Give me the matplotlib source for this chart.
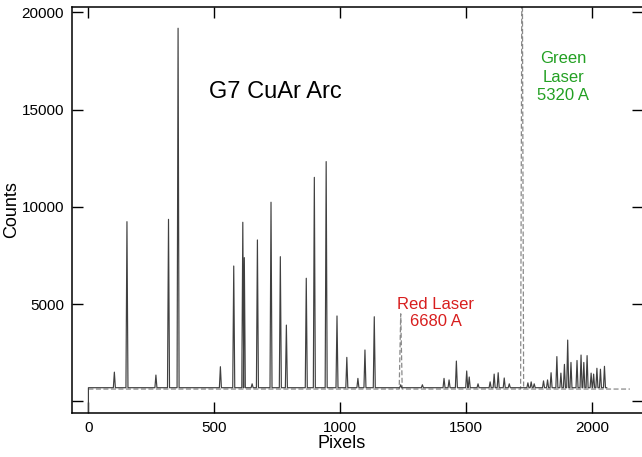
import matplotlib
matplotlib.use("Agg")
import matplotlib.pyplot as plt

# ---------------- data ----------------
# CuAr arc spectrum: emission line positions (pixels) and peak counts
arc_pixels = [103, 153, 268, 318, 356, 524, 577, 613, 619, 650, 671, 725, 762, 786,
              865, 897, 944, 987, 1026, 1070, 1098, 1135, 1240, 1326, 1412, 1432, 1461,
              1502, 1512, 1547, 1595, 1611, 1627, 1651, 1671, 1745, 1758, 1770, 1807,
              1823, 1837, 1860, 1876, 1890, 1903, 1916, 1940, 1956, 1967, 1980, 1996,
              2006, 2019, 2033, 2049]
arc_counts = [1500, 9240, 1350, 9360, 19190, 1780, 6960, 9210, 7390, 900, 8300, 10240,
              7440, 3920, 6330, 11520, 12330, 4390, 2260, 1180, 2640, 4350, 850, 850,
              1180, 1100, 2070, 1560, 1250, 900, 1000, 1400, 1470, 1200, 900, 950, 1000,
              900, 1050, 1100, 1470, 2300, 1450, 1900, 3150, 2000, 2100, 2380, 2000,
              2350, 1450, 1400, 1700, 1650, 1800]
arc_base = 700
arc_start, arc_end = 0, 2058

# Laser spectrum (dashed)
laser_pixels = [1240, 1722]
laser_counts = [4500, 26000]
laser_base = 630
laser_start, laser_end = 0, 2150

x_ticks = [0, 500, 1000, 1500, 2000]
y_ticks = [0, 5000, 10000, 15000, 20000]
y_tick_labels = ["", "5000", "10000", "15000", "20000"]


def spectrum(pixels, counts, base, start, end, hw, floor=None):
    xs, ys = [start], [floor if floor is not None else base]
    xs.append(start); ys.append(base)
    for p, c in zip(pixels, counts):
        xs += [p - hw, p, p + hw]
        ys += [base, c, base]
    xs.append(end); ys.append(base)
    return xs, ys


plt.rcParams['font.family'] = ['Liberation Sans', 'DejaVu Sans']

fig = plt.figure(figsize=(6.42, 4.57), dpi=100)
ax_w = (643 - 72.3) / 642
ax_h = (412.7 - 7.3) / 457
ax = fig.add_axes([72.3 / 642, 1 - 412.7 / 457, ax_w, ax_h])

lx, ly = spectrum(laser_pixels, laser_counts, laser_base, laser_start, laser_end, 6)
ax.plot(lx, ly, color="#8a8a8a", lw=0.9, ls=(0, (4, 2)))

sx, sy = spectrum(arc_pixels, arc_counts, arc_base, arc_start, arc_end, 4, floor=-600)
ax.plot(sx, sy, color="#404040", lw=0.85)

ax.set_xlim(-64, 2202)
ax.set_ylim(-586, 20267)
ax.set_xticks(x_ticks)
ax.set_yticks(y_ticks)
ax.set_yticklabels(y_tick_labels)
ax.tick_params(direction="in", length=8, width=1, top=True, right=True,
               labelsize=11, pad=6)
for s in ax.spines.values():
    s.set_linewidth(1.1)

ax.set_xlabel("Pixels", fontsize=13)
ax.set_ylabel("Counts", fontsize=13)
ax.xaxis.set_label_coords((342 - 72.3) / (643 - 72.3), -(435 - 412.7) / (412.7 - 7.3))
ax.yaxis.set_label_coords(-(72.3 - 20) / (643 - 72.3), 0.5)

ax.text(743, 15910, "G7 CuAr Arc", fontsize=17, ha="center", va="center", color="black")
ax.text(1380, 4550, "Red Laser\n6680 A", fontsize=12, ha="center", va="center",
        color="#d81e1e", linespacing=1.2)
ax.text(1885, 16670, "Green\nLaser\n5320 A", fontsize=12, ha="center", va="center",
        color="#23a023", linespacing=1.28)

fig.savefig("out.png", dpi=100)
